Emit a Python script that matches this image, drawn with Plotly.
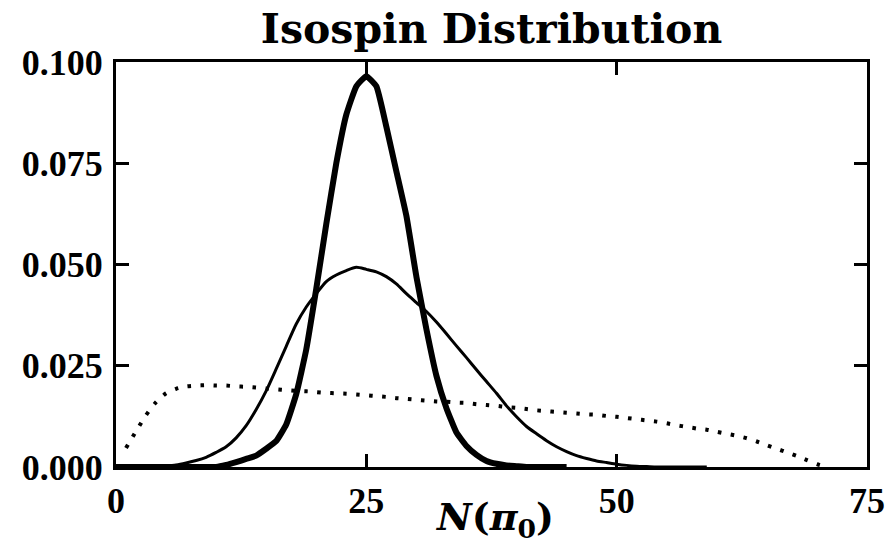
import plotly.graph_objects as go

# Thick curve (narrow distribution)
x_thick = list(range(0, 46))
y_thick = [0, 0, 0, 0, 0, 0, 0, 0, 0, 0,
           0, 0.0005, 0.0012, 0.0020, 0.0028, 0.0045, 0.0064, 0.0105, 0.0180, 0.0290,
           0.0440, 0.0600, 0.0750, 0.0870, 0.0940, 0.0965, 0.0940, 0.0840, 0.0730, 0.0620,
           0.0470, 0.0340, 0.0225, 0.0145, 0.0085, 0.0052, 0.0030, 0.0015, 0.0008, 0.0004,
           0.0002, 0, 0, 0, 0, 0]

# Thin curve (wider distribution)
x_thin = list(range(0, 60))
y_thin = [0, 0, 0, 0, 0, 0.0002, 0.0005, 0.0010, 0.0016, 0.0024,
          0.0036, 0.0050, 0.0072, 0.0102, 0.0142, 0.0188, 0.0242, 0.0298, 0.0353, 0.0395,
          0.0428, 0.0458, 0.0474, 0.0485, 0.0493, 0.0488, 0.0482, 0.0470, 0.0452, 0.0428,
          0.0406, 0.0384, 0.0358, 0.0329, 0.0299, 0.0270, 0.0240, 0.0211, 0.0182, 0.0151,
          0.0124, 0.0100, 0.0082, 0.0065, 0.0050, 0.0038, 0.0028, 0.0021, 0.0015, 0.0011,
          0.0007, 0.0004, 0.0002, 0.0001, 0, 0, 0, 0, 0, 0]

# Dotted curve (broad distribution)
x_dot = list(range(1, 72))
y_dot = [0.0047, 0.0088, 0.0128, 0.0160, 0.0182, 0.0193, 0.0199, 0.0201, 0.0202, 0.0201,
         0.0201, 0.0199, 0.0198, 0.0196, 0.0194, 0.0192, 0.0190, 0.0188, 0.0187, 0.0185,
         0.0183, 0.0182, 0.0181, 0.0179, 0.0177, 0.0175, 0.0173, 0.0170, 0.0168, 0.0166,
         0.0164, 0.0162, 0.0161, 0.0159, 0.0158, 0.0155, 0.0153, 0.0151, 0.0148, 0.0146,
         0.0143, 0.0140, 0.0138, 0.0136, 0.0134, 0.0132, 0.0130, 0.0129, 0.0126, 0.0124,
         0.0121, 0.0118, 0.0115, 0.0112, 0.0108, 0.0103, 0.0099, 0.0095, 0.0092, 0.0087,
         0.0082, 0.0077, 0.0071, 0.0063, 0.0054, 0.0045, 0.0036, 0.0027, 0.0017, 0.0007,
         0.0]

x_ticks = [0, 25, 50, 75]
y_ticks = [0.0, 0.025, 0.05, 0.075, 0.1]
y_tick_text = ["0.000", "0.025", "0.050", "0.075", "0.100"]

TITLE_FONT = "DejaVu Serif"
TICK_FONT = "Liberation Serif"

fig = go.Figure()
fig.add_trace(go.Scatter(x=x_dot, y=y_dot, mode="lines",
                         line=dict(color="black", width=4, dash="3.5px,9.5px",
                                   shape="spline", smoothing=0.6),
                         showlegend=False, hoverinfo="skip"))
fig.add_trace(go.Scatter(x=x_thin, y=y_thin, mode="lines",
                         line=dict(color="black", width=3, shape="spline", smoothing=0.7),
                         showlegend=False, hoverinfo="skip"))
fig.add_trace(go.Scatter(x=x_thick, y=y_thick, mode="lines",
                         line=dict(color="black", width=6, shape="spline", smoothing=0.4),
                         showlegend=False, hoverinfo="skip"))

axis_common = dict(showgrid=False, zeroline=False, showline=True, linecolor="black",
                   linewidth=3, mirror="ticks", ticks="inside", ticklen=13,
                   tickwidth=2.5, tickcolor="black", automargin=False)

fig.update_xaxes(range=[0, 75], tickvals=x_ticks, ticktext=[str(v) for v in x_ticks],
                 tickfont=dict(family=TICK_FONT, size=36, color="black", weight="bold"),
                 ticklabelstandoff=0,
                 **axis_common)
fig.update_yaxes(range=[0, 0.1], tickvals=y_ticks, ticktext=y_tick_text,
                 tickfont=dict(family=TICK_FONT, size=36, color="black", weight="bold"),
                 ticklabelstandoff=3,
                 **axis_common)

# x-axis title, placed just under the tick labels
fig.add_annotation(text="<b><i>N</i>(<i>π</i><sub>0</sub>)</b>",
                   x=0.505, xref="paper", y=0, yref="paper",
                   xanchor="center", yanchor="middle", yshift=-52, showarrow=False,
                   font=dict(family=TITLE_FONT, size=38, color="black"))

fig.update_layout(
    width=887, height=555,
    margin=dict(l=116, r=20, t=62, b=88),
    paper_bgcolor="white", plot_bgcolor="white",
    font=dict(family=TITLE_FONT, color="black"),
    title=dict(text="<b>Isospin Distribution</b>",
               font=dict(family=TITLE_FONT, size=41, color="black"),
               x=0.5, xref="paper", xanchor="center",
               y=1 - 29 / 555, yref="container", yanchor="middle"),
)

fig.write_html("out.html", config={"displayModeBar": False},
               post_script="document.body.style.margin='0';document.body.style.overflow='hidden';")
